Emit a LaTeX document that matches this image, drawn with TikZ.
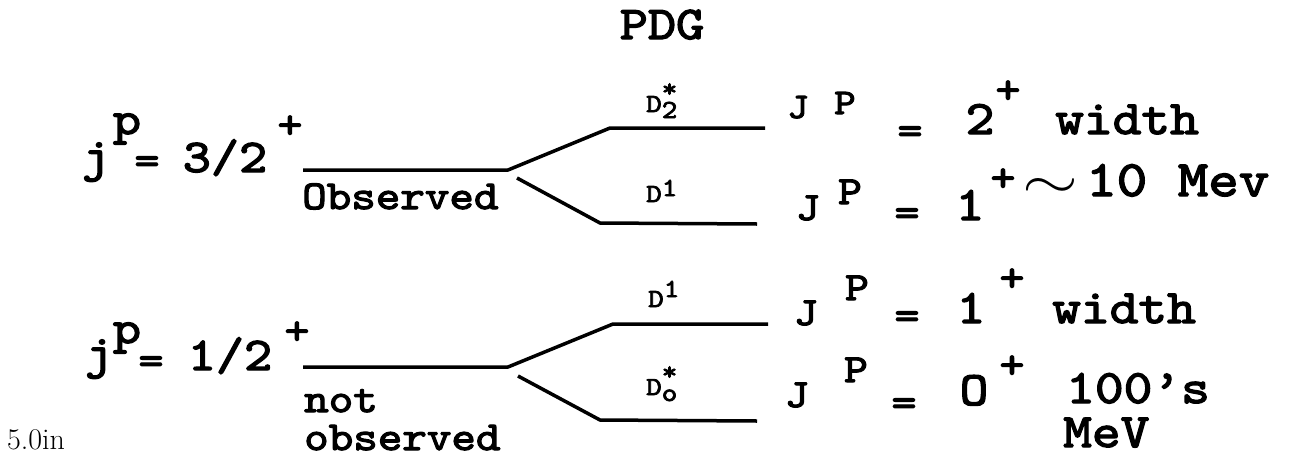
\documentclass[tikz,border=0pt]{standalone}
\usepackage{fontspec}
\newfontfamily\cour{lmmono10-regular.otf}[FakeStretch=1.14,FakeBold=2.8]
\usepackage{graphicx}
\begin{document}
\begin{tikzpicture}[x=1pt,y=-1pt,
  tt/.style={inner sep=0pt, anchor=base, font=\fontsize{#1}{#1}\selectfont\cour},
  ttw/.style={inner sep=0pt, anchor=base west, font=\fontsize{#1}{#1}\selectfont\cour},
  lvl/.style={line width=3.5pt, line join=round}]
\useasboundingbox (0,0) rectangle (1303,458);
% title
\node[tt=47] (pdg) at (662,39) {PDG};
% ===== upper group j^p = 3/2^+
\node[tt=47] (j1) at (96,171) {j};
\node[tt=47] (p1) at (127,134) {p};
\node[tt=42] (eq1) at (147,174) {=};
\node[tt=47] (v1) at (225,172) {3/2};
\node[tt=42] (pl1) at (290,138) {+};
\coordinate (a0) at (303,170);
\coordinate (a1) at (508,170);
\coordinate (a2) at (610,128);
\coordinate (a3) at (765,128);
\coordinate (a4) at (517,178);
\coordinate (a5) at (600,223);
\coordinate (a6) at (757,224);
\draw[lvl] (a0) -- (a1) -- (a2) -- (a3);
\draw[lvl] (a4) -- (a5) -- (a6);
\node[ttw=41] (obs) at (302,209) {Observed};
\node[ttw=26] (d2) at (646,112) {D\rlap{\raisebox{-6pt}{2}}\raisebox{15pt}{*}};
\node[ttw=26] (d1a) at (646,202) {D\raisebox{6pt}{1}};
% right column, row 1
\node[tt=36] (J1) at (798,118) {J};
\node[tt=36] (P1) at (845,114) {P};
\node[tt=42] (e1) at (910,144) {=};
\node[tt=48] (n1) at (980,134) {2};
\node[tt=42] (s1) at (1008,103) {+};
\node[ttw=48] (w1) at (1055,134) {width};
% row 2
\node[tt=40] (J2) at (808,220) {J};
\node[tt=40] (P2) at (850,204) {P};
\node[tt=42] (e2) at (907,226) {=};
\node[tt=48] (n2) at (970,220) {1};
\node[tt=42] (s2) at (1003,191) {+};
\node[inner sep=0pt] (tl) at (1050,188) {\resizebox{56pt}{20pt}{$\sim$}};
\node[ttw=51] (mev1) at (1086,196) {10 Mev};
% ===== lower group j^p = 1/2^+
\node[tt=47] (j2) at (99,368) {j};
\node[tt=47] (p2) at (127,343) {p};
\node[tt=42] (eq2) at (151,374) {=};
\node[tt=47] (v2) at (230,370) {1/2};
\node[tt=42] (pl2) at (297,344) {+};
\coordinate (b0) at (303,367);
\coordinate (b1) at (508,367);
\coordinate (b2) at (613,324);
\coordinate (b3) at (768,324);
\coordinate (b4) at (518,376);
\coordinate (b5) at (600,420);
\coordinate (b6) at (757,421);
\draw[lvl] (b0) -- (b1) -- (b2) -- (b3);
\draw[lvl] (b4) -- (b5) -- (b6);
\node[ttw=41] (not) at (304,412) {not};
\node[ttw=41] (nobs) at (304,450) {observed};
\node[ttw=26] (d1b) at (648,307) {D\raisebox{10pt}{1}};
\node[ttw=26] (d0) at (646,395) {D\rlap{\raisebox{-6pt}{o}}\raisebox{15pt}{*}};
% right column, row 3
\node[tt=40] (J3) at (806,325) {J};
\node[tt=40] (P3) at (857,300) {P};
\node[tt=42] (e3) at (907,329) {=};
\node[tt=48] (n3) at (971,323) {1};
\node[tt=42] (s3) at (1012,291) {+};
\node[ttw=48] (w3) at (1052,323) {width};
% row 4
\node[tt=40] (J4) at (797,407) {J};
\node[tt=40] (P4) at (856,382) {P};
\node[tt=42] (e4) at (904,416) {=};
\node[tt=48] (n4) at (974,405) {O};
\node[tt=42] (s4) at (1012,378) {+};
\node[ttw=48] (hs) at (1066,403) {100’s};
\node[ttw=48] (mev2) at (1063,447) {MeV};
% note
\node[inner sep=0pt, anchor=base west, font=\fontsize{30}{30}\selectfont] (note) at (7,449) {5.0in};
\end{tikzpicture}
\end{document}
